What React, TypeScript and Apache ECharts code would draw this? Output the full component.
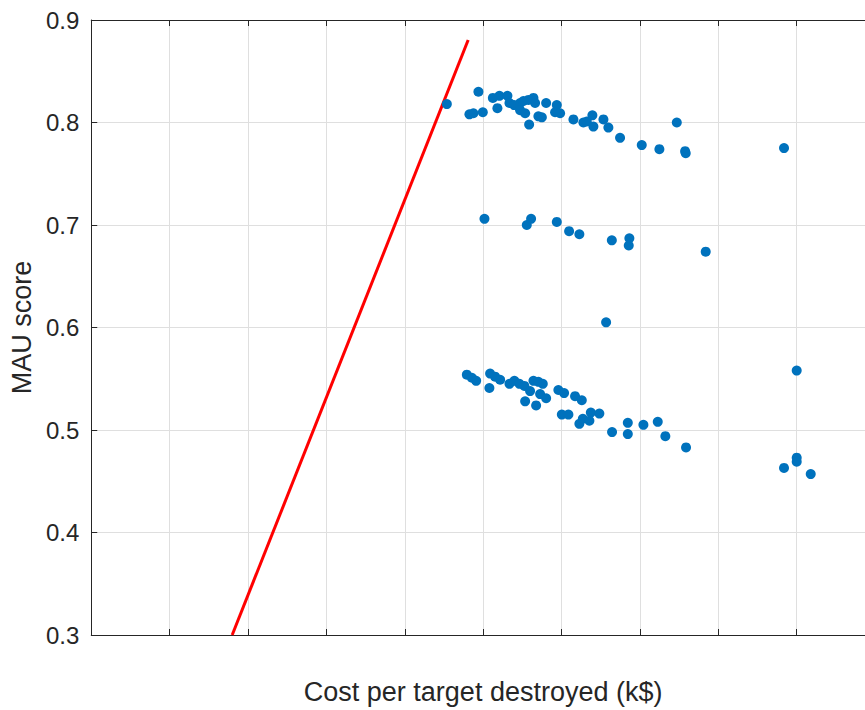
import React, { useEffect, useRef } from "react";
import * as echarts from "echarts";

// x: cost per target destroyed (k$), y: MAU score
const upperCluster: [number, number][] = [
  [45.37, 0.818], [49.4, 0.83], [48.25, 0.808], [48.76, 0.809], [49.96, 0.81],
  [51.24, 0.824], [52.08, 0.826], [53.1, 0.826], [51.82, 0.814], [53.36, 0.819],
  [53.95, 0.817], [54.72, 0.819], [55.14, 0.821], [55.78, 0.822], [56.42, 0.824],
  [56.63, 0.819], [54.72, 0.812], [55.36, 0.809], [55.87, 0.798], [57.05, 0.806],
  [57.49, 0.805], [58.04, 0.819], [59.4, 0.817], [59.18, 0.81], [59.82, 0.809],
  [61.52, 0.803], [62.79, 0.8], [63.23, 0.801], [63.94, 0.807], [64.07, 0.796],
  [65.35, 0.803], [65.98, 0.795], [67.47, 0.785], [70.24, 0.778], [72.49, 0.774],
  [74.71, 0.8], [75.77, 0.772], [75.85, 0.77], [88.39, 0.775],
];

const middleCluster: [number, number][] = [
  [50.17, 0.706], [55.57, 0.7], [56.12, 0.706], [59.4, 0.703], [60.97, 0.694],
  [62.28, 0.691], [66.42, 0.685], [68.66, 0.687], [68.58, 0.68], [78.4, 0.674],
  [65.69, 0.605],
];

const lowerCluster: [number, number][] = [
  [47.92, 0.554], [48.56, 0.551], [49.11, 0.548], [50.8, 0.541], [50.89, 0.555],
  [51.53, 0.552], [52.17, 0.549], [53.36, 0.545], [53.99, 0.548], [54.63, 0.545],
  [55.27, 0.543], [56.42, 0.548], [57.05, 0.547], [57.61, 0.545], [55.99, 0.538],
  [57.27, 0.535], [58.04, 0.531], [55.36, 0.528], [56.76, 0.524], [59.6, 0.539],
  [60.33, 0.536], [61.73, 0.533], [62.59, 0.529], [60.04, 0.515], [60.88, 0.515],
  [62.28, 0.506], [62.72, 0.511], [63.56, 0.509], [63.74, 0.517], [64.83, 0.516],
  [66.45, 0.498], [68.46, 0.507], [68.46, 0.496], [70.45, 0.505], [72.28, 0.508],
  [73.25, 0.494], [75.89, 0.483], [90.01, 0.558], [90.01, 0.473], [90.01, 0.469],
  [88.39, 0.463], [91.8, 0.457],
];

const frontierLine: [number, number][] = [
  [17.98, 0.3],
  [48.09, 0.8805],
];

const yTicks = { min: 0.3, max: 0.9, interval: 0.1 };
const xTicks = { min: 0, max: 100, interval: 10 };

const xLabel = "Cost per target destroyed (k$)";
const yLabel = "MAU score";

const FONT = "'Liberation Sans', Arial, Helvetica, sans-serif";
const TEXT = "#262626";
const GRID = "#dfdfdf";

export default function App() {
  const ref = useRef<HTMLDivElement>(null);
  useEffect(() => {
    document.body.style.margin = "0";
    document.body.style.overflow = "hidden";
    const chart = echarts.init(ref.current!, null, { renderer: "svg" });
    const axisLine = { show: true, onZero: false, lineStyle: { color: TEXT, width: 1 } };
    const axisTick = { show: true, inside: true, length: 6, lineStyle: { color: TEXT, width: 1 } };
    chart.setOption({
      animation: false,
      backgroundColor: "#ffffff",
      grid: { left: 91, top: 20, width: 784, height: 616, containLabel: false },
      xAxis: [
        {
          type: "value",
          min: xTicks.min,
          max: xTicks.max,
          interval: xTicks.interval,
          position: "bottom",
          name: xLabel,
          nameLocation: "middle",
          nameGap: 43,
          nameTextStyle: { fontFamily: FONT, fontSize: 27, color: TEXT },
          axisLabel: { show: false },
          axisLine,
          axisTick,
          splitLine: { show: true, lineStyle: { color: GRID, width: 1 } },
        },
        {
          type: "value",
          min: xTicks.min,
          max: xTicks.max,
          interval: xTicks.interval,
          position: "top",
          axisLabel: { show: false },
          axisLine,
          axisTick,
          splitLine: { show: false },
        },
      ],
      yAxis: [
        {
          type: "value",
          min: yTicks.min,
          max: yTicks.max,
          interval: yTicks.interval,
          position: "left",
          name: yLabel,
          nameLocation: "middle",
          nameGap: 55,
          nameRotate: 90,
          nameTextStyle: { fontFamily: FONT, fontSize: 27, color: TEXT },
          axisLabel: {
            show: true,
            margin: 12,
            fontFamily: FONT,
            fontSize: 24,
            color: TEXT,
            formatter: (v: number) => v.toFixed(1),
          },
          axisLine,
          axisTick,
          splitLine: { show: true, lineStyle: { color: GRID, width: 1 } },
        },
        {
          type: "value",
          min: yTicks.min,
          max: yTicks.max,
          interval: yTicks.interval,
          position: "right",
          axisLabel: { show: false },
          axisLine,
          axisTick,
          splitLine: { show: false },
        },
      ],
      series: [
        {
          type: "line",
          data: frontierLine,
          symbol: "none",
          lineStyle: { color: "#ff0000", width: 3 },
          z: 2,
        },
        {
          type: "scatter",
          data: [...upperCluster, ...middleCluster, ...lowerCluster],
          symbol: "circle",
          symbolSize: 10,
          itemStyle: { color: "#0072bd", opacity: 1 },
          z: 3,
        },
      ],
    });
    return () => chart.dispose();
  }, []);
  return <div ref={ref} style={{ width: 880, height: 710, overflow: "hidden" }} />;
}
